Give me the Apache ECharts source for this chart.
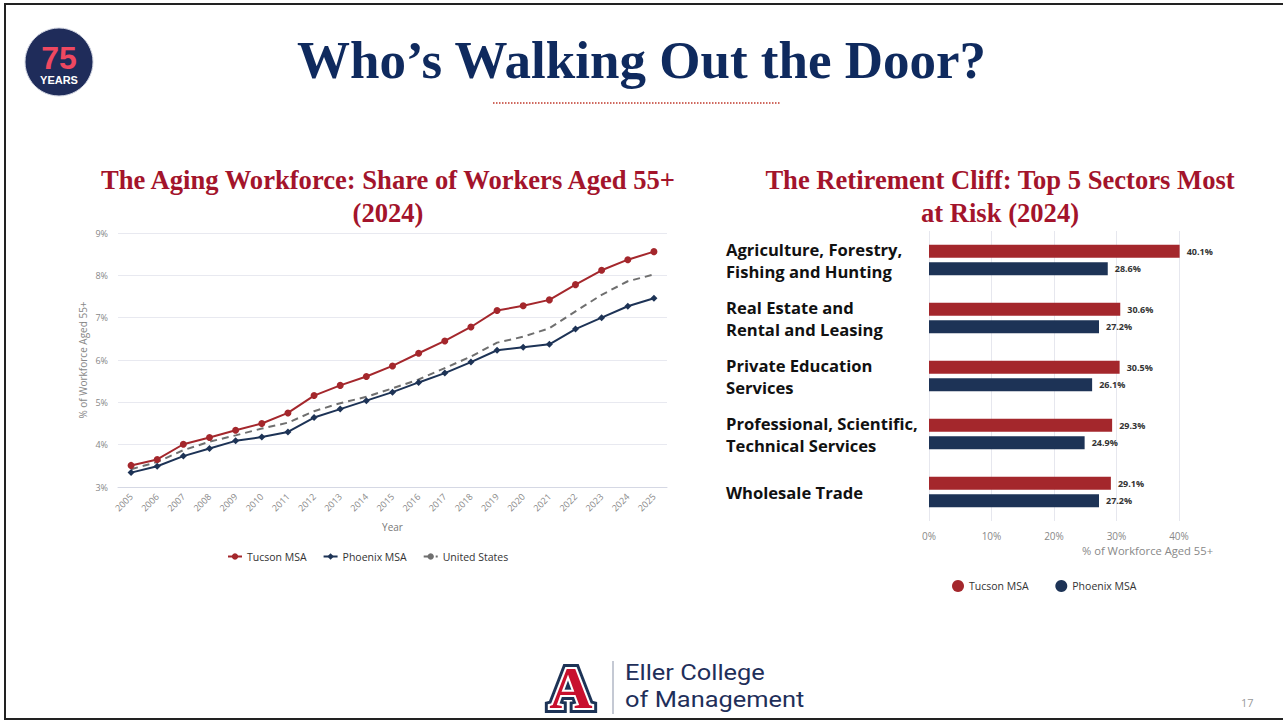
<!DOCTYPE html>
<html>
<head>
<meta charset="utf-8">
<script src="https://cdn.jsdelivr.net/npm/echarts@6/dist/echarts.min.js"></script>
<style>
  html, body { margin: 0; padding: 0; background: #fff; }
  #chart { width: 1283px; height: 723px; }
</style>
</head>
<body>
<div id="chart"></div>
<script>
// left chart: share of workers aged 55+
var years = ["2005","2006","2007","2008","2009","2010","2011","2012","2013","2014","2015",
  "2016","2017","2018","2019","2020","2021","2022","2023","2024","2025"];
var tucson = [3.51,3.65,4.01,4.17,4.34,4.50,4.75,5.16,5.40,5.61,5.86,
  6.16,6.45,6.78,7.17,7.28,7.42,7.78,8.12,8.37,8.56];
var phoenix = [3.34,3.49,3.73,3.91,4.09,4.18,4.30,4.64,4.84,5.04,5.24,
  5.47,5.69,5.95,6.23,6.30,6.37,6.73,7.00,7.27,7.46];
var unitedStates = [3.42,3.59,3.87,4.07,4.22,4.38,4.52,4.79,4.98,5.13,5.33,
  5.54,5.81,6.08,6.41,6.55,6.75,7.15,7.54,7.86,8.02];
var pctTicks = [3, 9, 1]; // min, max, step

// right chart: top 5 sectors
var sectors = ["Agriculture, Forestry,\nFishing and Hunting", "Real Estate and\nRental and Leasing",
  "Private Education\nServices", "Professional, Scientific,\nTechnical Services", "Wholesale Trade"];
var sectorTucson = [40.1, 30.6, 30.5, 29.3, 29.1];
var sectorPhoenix = [28.6, 27.2, 26.1, 24.9, 27.2];

var RED = "#a4272c";
var NAVY = "#1d3356";
var TITLE_NAVY = "#0f2a5e";
var SUB_RED = "#a3142b";
var serif = "'Liberation Serif', 'DejaVu Serif', serif";
var sans = "'Open Sans', 'Noto Sans', sans-serif";

var chart = echarts.init(document.getElementById("chart"), null, { renderer: "svg" });

var option = {
  animation: false,
  backgroundColor: "#fff",
  textStyle: { fontFamily: sans },
  title: [
    { text: "Who’s Walking Out the Door?", left: "center", top: 28,
      textStyle: { fontFamily: serif, fontSize: 53, fontWeight: "bold", color: TITLE_NAVY } },
    { text: "The Aging Workforce: Share of Workers Aged 55+\n(2024)", left: 383, textAlign: "center", top: 158,
      textStyle: { fontFamily: serif, fontSize: 26.6, fontWeight: "bold", color: SUB_RED, lineHeight: 33 } },
    { text: "The Retirement Cliff: Top 5 Sectors Most\nat Risk (2024)", left: 995, textAlign: "center", top: 158,
      textStyle: { fontFamily: serif, fontSize: 26.6, fontWeight: "bold", color: SUB_RED, lineHeight: 33 } }
  ],
  legend: [
    { data: ["Tucson MSA", "Phoenix MSA", "United States"], left: 222, top: 546,
      itemWidth: 14, itemHeight: 8, itemGap: 16,
      textStyle: { fontSize: 10.5, color: "#333", fontFamily: sans } },
    { data: ["Tucson MSA ", "Phoenix MSA "], left: 947, top: 575, icon: "circle",
      itemWidth: 12, itemHeight: 12, itemGap: 24,
      textStyle: { fontSize: 10.5, color: "#333", fontFamily: sans } }
  ],
  grid: [
    { left: 118, right: 616, top: 233, bottom: 236 },
    { left: 929, right: 104, top: 231, bottom: 202 }
  ],
  xAxis: [
    { gridIndex: 0, type: "category", data: years, boundaryGap: true,
      axisLine: { lineStyle: { color: "#d5d8e4" } }, axisTick: { show: false },
      axisLabel: { rotate: 45, fontSize: 9, color: "#888", margin: 8 },
      name: "Year", nameLocation: "middle", nameGap: 35,
      nameTextStyle: { fontSize: 10, color: "#777" } },
    { gridIndex: 1, type: "value", min: 0, max: 40, interval: 10,
      axisLine: { show: false }, axisTick: { show: false },
      splitLine: { lineStyle: { color: "#e6e7ee" } },
      axisLabel: { formatter: "{value}%", fontSize: 10, color: "#888", margin: 10 } }
  ],
  yAxis: [
    { gridIndex: 0, type: "value", min: pctTicks[0], max: pctTicks[1], interval: pctTicks[2],
      axisLabel: { formatter: "{value}%", fontSize: 9, color: "#888", margin: 10 },
      splitLine: { lineStyle: { color: "#e8e9f0" } },
      name: "% of Workforce Aged 55+", nameLocation: "middle", nameRotate: 90, nameGap: 30,
      nameTextStyle: { fontSize: 10, color: "#888" } },
    { gridIndex: 1, type: "category", data: sectors, inverse: true,
      axisLine: { show: false }, axisTick: { show: false },
      axisLabel: { align: "left", margin: 203, fontSize: 16.6, fontWeight: "bold", color: "#111",
        lineHeight: 22, fontFamily: sans } }
  ],
  series: [
    { name: "Tucson MSA", type: "line", xAxisIndex: 0, yAxisIndex: 0, data: tucson,
      symbol: "circle", symbolSize: 7, itemStyle: { color: RED }, lineStyle: { color: RED, width: 2 } },
    { name: "Phoenix MSA", type: "line", xAxisIndex: 0, yAxisIndex: 0, data: phoenix,
      symbol: "diamond", symbolSize: 7, itemStyle: { color: NAVY }, lineStyle: { color: NAVY, width: 2 } },
    { name: "United States", type: "line", xAxisIndex: 0, yAxisIndex: 0, data: unitedStates,
      symbol: "none", itemStyle: { color: "#6f6f6f" },
      lineStyle: { color: "#6f6f6f", width: 2, type: [7, 5] } },
    { name: "Tucson MSA ", type: "bar", xAxisIndex: 1, yAxisIndex: 1, data: sectorTucson,
      barWidth: 13, barGap: "35%", clip: false, itemStyle: { color: RED },
      label: { show: true, position: "right", distance: 7, formatter: "{c}%", fontSize: 9,
        fontWeight: "bold", color: "#333" } },
    { name: "Phoenix MSA ", type: "bar", xAxisIndex: 1, yAxisIndex: 1, data: sectorPhoenix,
      barWidth: 13, clip: false, itemStyle: { color: NAVY },
      label: { show: true, position: "right", distance: 7, formatter: "{c}%", fontSize: 9,
        fontWeight: "bold", color: "#333" } }
  ],
  graphic: [
    // slide frame
    { type: "polyline", shape: { points: [[1283, 4], [5, 4], [5, 719], [1283, 719]] },
      style: { stroke: "#222", lineWidth: 2, fill: null }, silent: true },
    // dotted underline under the title
    { type: "line", shape: { x1: 493, y1: 103, x2: 780, y2: 103 },
      style: { stroke: "#c0392b", lineWidth: 1.5, lineDash: [1.5, 1.5] } },
    // x axis name, right chart
    { type: "text", left: 1082, top: 545,
      style: { text: "% of Workforce Aged 55+", fontSize: 11.2, fill: "#888", fontFamily: sans } },
    // 75 years badge
    { type: "circle", shape: { cx: 59, cy: 62, r: 34 }, style: { fill: "#1f2c5a", stroke: "#cfd3e0", lineWidth: 1 } },
    { type: "text", x: 59, y: 58, style: { text: "75", fontSize: 32, fontWeight: "bold", fill: "#ef4860",
      align: "center", verticalAlign: "middle", fontFamily: "'Liberation Sans', sans-serif" } },
    { type: "text", x: 59, y: 80, style: { text: "YEARS", fontSize: 11, fontWeight: "bold", fill: "#fff",
      align: "center", verticalAlign: "middle", fontFamily: "'Liberation Sans', sans-serif" } },
    // Eller block A
    { type: "text", x: 571, y: 688, style: { text: "A", fontSize: 60, fontWeight: "bold", fill: NAVY,
      stroke: NAVY, lineWidth: 10, align: "center", verticalAlign: "middle", fontFamily: serif } },
    { type: "text", x: 571, y: 688, style: { text: "A", fontSize: 60, fontWeight: "bold", fill: "#c8102e",
      stroke: "#fff", lineWidth: 4, align: "center", verticalAlign: "middle", fontFamily: serif } },
    { type: "line", shape: { x1: 613, y1: 661, x2: 613, y2: 714 }, style: { stroke: "#8a93a8", lineWidth: 1 } },
    { type: "text", x: 625, y: 661, scaleX: 1.13, style: { text: "Eller College", fontSize: 22.5,
      verticalAlign: "top", fill: "#1f2f5a", fontFamily: "Roboto, sans-serif" } },
    { type: "text", x: 625, y: 687.5, scaleX: 1.13, style: { text: "of Management", fontSize: 22.5,
      verticalAlign: "top", fill: "#1f2f5a", fontFamily: "Roboto, sans-serif" } },
    // page number
    { type: "text", left: 1241, top: 697, style: { text: "17", fontSize: 11, fill: "#999", fontFamily: sans } }
  ]
};

chart.setOption(option);
</script>
</body>
</html>
